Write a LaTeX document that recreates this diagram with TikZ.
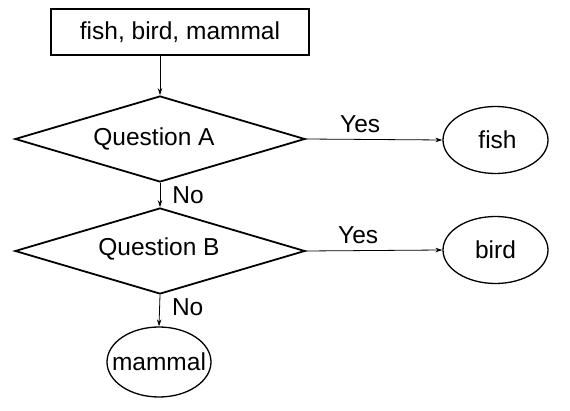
\documentclass[tikz,border=0pt]{standalone}
\usepackage{fontspec}
\setmainfont{Liberation Sans}
\usetikzlibrary{shapes.geometric,arrows.meta}
\begin{document}
\begin{tikzpicture}[x=1pt,y=-1pt,
  every node/.style={font=\fontsize{24.5}{28}\selectfont},
  boxnode/.style={draw,line width=1.8pt,minimum width=258pt,minimum height=46pt,inner sep=0pt},
  dianode/.style={draw,diamond,line width=1.8pt,minimum width=290pt,minimum height=86pt,inner sep=0pt,aspect=3.4},
  ellnode/.style={draw,ellipse,line width=1.3pt,inner sep=0pt},
  conn/.style={line width=0.8pt,-{Stealth[length=7pt,width=4.5pt]}},
  lbl/.style={inner sep=0pt}]
\useasboundingbox (0,0) rectangle (570,411);
\node[boxnode] (src) at (180,32) {fish, bird, mammal};
\node[dianode] (qa) at (160,139) {};
\node at (154,139) {Question A};
\node[dianode] (qb) at (160,251) {};
\node at (159,249) {Question B};
\node[ellnode,minimum width=105pt,minimum height=67pt] (fish) at (495.5,140) {\,fish};
\node[ellnode,minimum width=105pt,minimum height=67pt] (bird) at (495.5,250) {bird};
\node[ellnode,minimum width=104pt,minimum height=70pt] (mammal) at (159,362) {\makebox[0pt]{mammal}};
\draw[conn] (src.south -| qa.north) -- (qa.north);
\draw[conn] (qa.east) -- (fish.west) node[lbl,midway,above=6pt,xshift=-14pt] {Yes};
\draw[conn] (qa.south) -- (qb.north) node[lbl,midway,right=12pt] {No};
\draw[conn] (qb.east) -- (bird.west) node[lbl,midway,above=6pt,xshift=-16pt] {Yes};
\draw[conn] (qb.south) -- (mammal.north) node[lbl,pos=0.4,right=12pt] {No};
\end{tikzpicture}
\end{document}
